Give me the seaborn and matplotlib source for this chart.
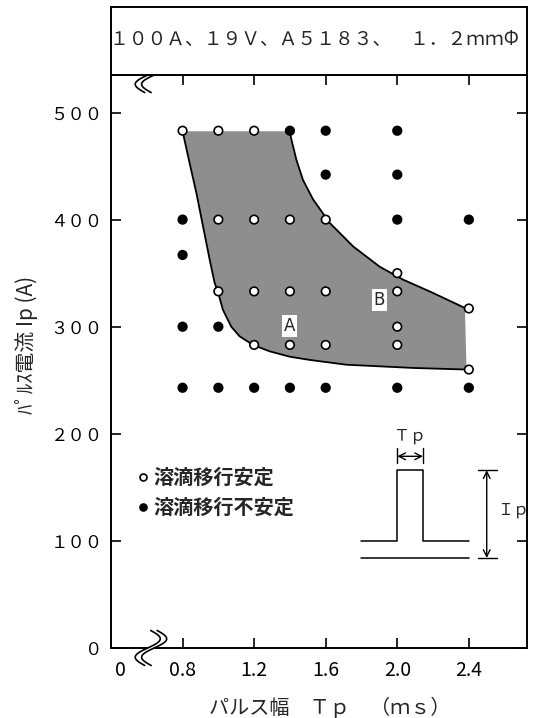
import math
import pandas as pd
import seaborn as sns
import matplotlib.pyplot as plt
from matplotlib.lines import Line2D

# measured points (Tp in ms, Ip in A)
stable_tp = [0.8, 1.0, 1.2, 1.0, 1.2, 1.4, 1.6, 2.0, 1.0, 1.2, 1.4, 1.6, 2.0,
             2.4, 2.0, 1.2, 1.4, 1.6, 2.0, 2.4]
stable_ip = [483, 483, 483, 400, 400, 400, 400, 350, 333, 333, 333, 333, 333,
             317, 300, 283, 283, 283, 283, 260]
unstable_tp = [1.4, 1.6, 2.0, 1.6, 2.0, 0.8, 2.0, 2.4, 0.8, 0.8, 1.0,
               0.8, 1.0, 1.2, 1.4, 1.6, 2.0, 2.4]
unstable_ip = [483, 483, 483, 442, 442, 400, 400, 400, 367, 300, 300,
               243, 243, 243, 243, 243, 243, 243]

# outline of the shaded (stable) region
lower_tp = [0.80, 0.839, 0.877, 0.914, 0.951, 0.979, 0.997, 1.025, 1.072,
            1.119, 1.193, 1.287, 1.399, 1.51, 1.716, 2.088, 2.387]
lower_ip = [482.5, 453, 425, 394, 363, 341, 333, 316, 300,
            291, 283, 277, 272, 269, 264.5, 261.5, 260]
upper_tp = [1.399, 1.408, 1.436, 1.473, 1.529, 1.622, 1.753, 1.902, 2.032,
            2.20, 2.378]
upper_ip = [482.5, 475, 456, 437, 419, 397, 375, 356, 344, 331.5, 317.5]

yticks = [0, 100, 200, 300, 400, 500]
ytick_labels = ["０", "１００", "２００", "３００", "４００", "５００"]
xticks = [0.45, 0.8, 1.2, 1.6, 2.0, 2.4]
xtick_labels = ["0", "0.8", "1.2", "1.6", "2.0", "2.4"]

# pulse sketch
pulse_x = [1.80, 2.0, 2.0, 2.144, 2.144, 2.40]
pulse_y = [100, 100, 166, 166, 100, 100]
base_x = [1.80, 2.40]
base_y = [84, 84]

sns.set_theme(style="ticks")
plt.rcParams["font.family"] = ["Noto Sans CJK JP", "DejaVu Sans"]
plt.rcParams["axes.linewidth"] = 1.4

df = pd.concat([
    pd.DataFrame({"Tp": stable_tp, "Ip": stable_ip, "state": "stable"}),
    pd.DataFrame({"Tp": unstable_tp, "Ip": unstable_ip, "state": "unstable"}),
])

fig = plt.figure(figsize=(5.49, 7.18), dpi=100)
ax = fig.add_axes([0.2022, 0.0975, 0.7577, 0.798])

poly_x = lower_tp + upper_tp[::-1]
poly_y = lower_ip + upper_ip[::-1]
ax.fill(poly_x, poly_y, color="#8e8e8e", lw=0, zorder=1)
ax.plot(lower_tp, lower_ip, color="black", lw=1.3, zorder=2)
ax.plot(upper_tp, upper_ip, color="black", lw=1.3, zorder=2)

sns.scatterplot(data=df, x="Tp", y="Ip", hue="state",
                palette={"stable": "white", "unstable": "black"},
                edgecolor="black", linewidth=1.2, s=38, legend=False,
                zorder=4, ax=ax)

box = dict(facecolor="white", edgecolor="none", pad=1.5)
ax.text(1.396, 300.5, "A", fontsize=12, ha="center", va="center",
        bbox=box, zorder=3, family="DejaVu Sans")
ax.text(1.899, 324.8, "B", fontsize=12, ha="center", va="center",
        bbox=box, zorder=3, family="DejaVu Sans")

# pulse sketch
ax.plot(pulse_x, pulse_y, color="black", lw=1.1)
ax.plot(base_x, base_y, color="black", lw=1.1)
ax.annotate("", xy=(2.0, 179), xytext=(2.144, 179),
            arrowprops=dict(arrowstyle="<->", lw=1.0, color="black",
                            shrinkA=0, shrinkB=0))
ax.plot([2.0, 2.0], [173, 187], color="black", lw=1.0)
ax.plot([2.144, 2.144], [173, 187], color="black", lw=1.0)
ax.text(2.07, 198, "Ｔｐ", fontsize=11.5, ha="center", va="center")
ax.annotate("", xy=(2.50, 166), xytext=(2.50, 84),
            arrowprops=dict(arrowstyle="<->", lw=1.0, color="black",
                            shrinkA=0, shrinkB=0))
ax.plot([2.45, 2.557], [166, 166], color="black", lw=1.0)
ax.plot([2.45, 2.557], [84, 84], color="black", lw=1.0)
ax.text(2.646, 129, "Ｉｐ", fontsize=11.5, ha="center", va="center")

ax.set_xlim(0.40, 2.725)
ax.set_ylim(0, 535)
ax.set_xticks(xticks)
ax.set_xticklabels(xtick_labels, fontsize=14)
ax.set_yticks(yticks)
ax.set_yticklabels(ytick_labels, fontsize=12.5)
ax.tick_params(direction="in", top=True, right=True, length=7, width=1.2,
               color="black", labelcolor="black")
ax.tick_params(axis="x", pad=9)
ax.tick_params(axis="y", pad=6)
t0 = ax.xaxis.get_major_ticks()[0]
t0.tick1line.set_visible(False)
t0.tick2line.set_visible(False)
for s in ax.spines.values():
    s.set_color("black")

ax.set_xlabel("パルス幅　Ｔｐ　（ｍｓ）", fontsize=14.5)
ax.xaxis.set_label_coords(0.526, -0.103)
ax.xaxis.label.set_va("center")
ax.set_ylabel("ﾊﾟﾙｽ電流 Ip (A)", fontsize=15)
ax.yaxis.set_label_coords(-0.202, 0.529)
ax.yaxis.label.set_va("center")

handles = [
    Line2D([], [], marker="o", ls="none", mfc="white", mec="black", mew=1.2, ms=5),
    Line2D([], [], marker="o", ls="none", mfc="black", mec="black", mew=1.2, ms=5),
]
ax.legend(handles, ["溶滴移行安定", "溶滴移行不安定"], loc="upper left",
          bbox_to_anchor=(0.0625, 0.316), frameon=False,
          prop={"size": 14.5, "weight": "bold"},
          handlelength=0.6, handletextpad=0.2, labelspacing=0.45,
          borderpad=0, borderaxespad=0)


# axis break marks
def squiggle(x0, y0):
    w, h = 11 / 416, 17.5 / 573
    n = 40
    ts = [-1 + 2 * i / (n - 1) for i in range(n)]
    curves = []
    for off in (-3.2 / 416, 3.2 / 416):
        cx = [x0 + off + w * math.sin(math.pi * t) + 3 / 416 * t for t in ts]
        cy = [y0 + h * t for t in ts]
        curves.append((cx, cy))
    (ax1, ay1), (ax2, ay2) = curves
    ax.fill(ax1 + ax2[::-1], ay1 + ay2[::-1], color="white",
            transform=ax.transAxes, clip_on=False, zorder=5, lw=0)
    for cx, cy in curves:
        ax.plot(cx, cy, color="black", lw=1.2, transform=ax.transAxes,
                clip_on=False, zorder=6)


squiggle(0.096, 0.0)
squiggle(0.096, 1.0)

# header box
axh = fig.add_axes([0.2022, 0.8955, 0.7577, 0.0948])
axh.set_xticks([])
axh.set_yticks([])
for s in axh.spines.values():
    s.set_color("black")
axh.text(0.49, 0.52, "１００Ａ、１９Ｖ、Ａ５１８３、　１．２ｍｍΦ",
         fontsize=13.5, ha="center", va="center", transform=axh.transAxes)

fig.savefig("out.png", dpi=100, facecolor="white")
